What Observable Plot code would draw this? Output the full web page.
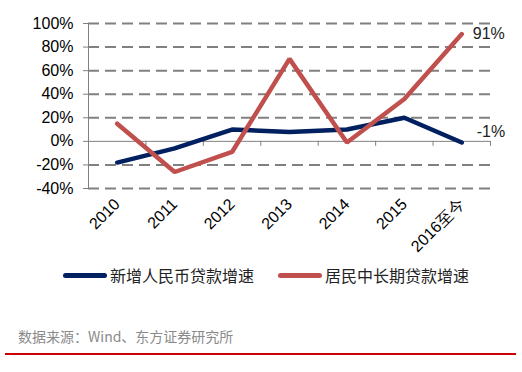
<!DOCTYPE html>
<html>
<head>
<meta charset="utf-8">
<script src="https://cdn.jsdelivr.net/npm/d3@7"></script>
<script src="https://cdn.jsdelivr.net/npm/@observablehq/plot@0.6"></script>
<style>
  html, body { margin: 0; padding: 0; background: #fff; }
  #wrap { position: relative; width: 522px; height: 372px; overflow: hidden; font-family: "Liberation Sans", Arial, sans-serif; }
  #chart { position: absolute; left: 0; top: 0; }
  #chart svg text { font-size: 16px; font-family: "Liberation Sans", Arial, sans-serif; }
  .legend { position: absolute; top: 263px; left: 0; width: 522px; height: 24px; font-family: "Noto Sans CJK SC", sans-serif; font-size: 16px; color: #222; }
  .item { position: absolute; top: 0; display: flex; align-items: center; height: 24px; }
  .swatch { width: 44px; height: 5px; border-radius: 3px; margin-right: 3px; }
  .source { position: absolute; left: 18px; top: 326px; font-family: "Noto Sans CJK SC", sans-serif; font-size: 14px; color: #8a8a8a; }
  .redline { position: absolute; left: 5px; top: 353px; width: 511px; height: 2px; background: #cc0000; }
</style>
</head>
<body>
<div id="wrap">
  <div id="chart"></div>
  <div class="legend" id="legend"></div>
  <div class="source">数据来源：Wind、东方证券研究所</div>
  <div class="redline"></div>
</div>
<script>
const categories = ["2010", "2011", "2012", "2013", "2014", "2015", "2016至今"];
const newLoanGrowth = [-18, -6, 10, 8, 10, 20, -1];       // 新增人民币贷款增速
const midLongLoanGrowth = [15, -26, -9, 70, -1, 36, 91];  // 居民中长期贷款增速
const yTicks = [-40, -20, 0, 20, 40, 60, 80, 100];
const seriesNames = ["新增人民币贷款增速", "居民中长期贷款增速"];
const seriesColors = ["#002060", "#c0504d"];
const endLabels = ["-1%", "91%"];

const idx = categories.map((_, i) => i);
const rows = [];
[newLoanGrowth, midLongLoanGrowth].forEach((vals, s) => {
  vals.forEach((v, i) => rows.push({series: seriesNames[s], i, value: v}));
});
const boundaries = idx.map(i => i + 0.5);
const last = categories.length - 1;
const endRows = [
  {series: seriesNames[0], i: last, value: newLoanGrowth[last], label: endLabels[0]},
  {series: seriesNames[1], i: last, value: midLongLoanGrowth[last], label: endLabels[1]}
];

const chart = Plot.plot({
  width: 522,
  height: 250,
  marginLeft: 88,
  marginRight: 32,
  marginTop: 23,
  marginBottom: 62,
  style: {fontFamily: "'Liberation Sans', Arial, sans-serif", fontSize: "16px", color: "#000", background: "transparent", overflow: "visible"},
  x: {domain: [-0.5, categories.length - 0.5]},
  y: {domain: [-40, 100]},
  color: {domain: seriesNames, range: seriesColors},
  marks: [
    Plot.ruleY(yTicks.filter(t => t !== 0), {y: d => d, stroke: "#808080", strokeWidth: 2, strokeDasharray: "11,6"}),
    Plot.ruleY([0], {stroke: "#808080", strokeWidth: 1}),
    Plot.ruleX(boundaries, {x: d => d, y1: 0, y2: 0, insetBottom: -5, stroke: "#808080", strokeWidth: 1}),
    Plot.ruleX([-0.5], {x: d => d, y1: -40, y2: 100, stroke: "#808080", strokeWidth: 1}),
    Plot.axisY({ticks: yTicks, tickFormat: d => d + "%", tickSize: 5, tickPadding: 10, stroke: "#808080", label: null}),
    Plot.axisX({ticks: idx, tickFormat: i => categories[i], tickRotate: -45, tickSize: 0, tickPadding: 13, label: null}),
    Plot.line(rows, {x: "i", y: "value", z: "series", stroke: "series", strokeWidth: 4.5, strokeLinejoin: "miter", strokeLinecap: "round"}),
    Plot.text(endRows.slice(0, 1), {x: "i", y: "value", text: "label", textAnchor: "start", dx: 15, dy: -11, fill: "#222"}),
    Plot.text(endRows.slice(1), {x: "i", y: "value", text: "label", textAnchor: "start", dx: 11, dy: 0, fill: "#222"})
  ]
});
document.getElementById("chart").appendChild(chart);

const legend = document.getElementById("legend");
const lefts = [63, 278];
seriesNames.forEach((name, s) => {
  const item = document.createElement("div");
  item.className = "item";
  item.style.left = lefts[s] + "px";
  const sw = document.createElement("div");
  sw.className = "swatch";
  sw.style.background = seriesColors[s];
  const tx = document.createElement("span");
  tx.textContent = name;
  item.appendChild(sw);
  item.appendChild(tx);
  legend.appendChild(item);
});
</script>
</body>
</html>
